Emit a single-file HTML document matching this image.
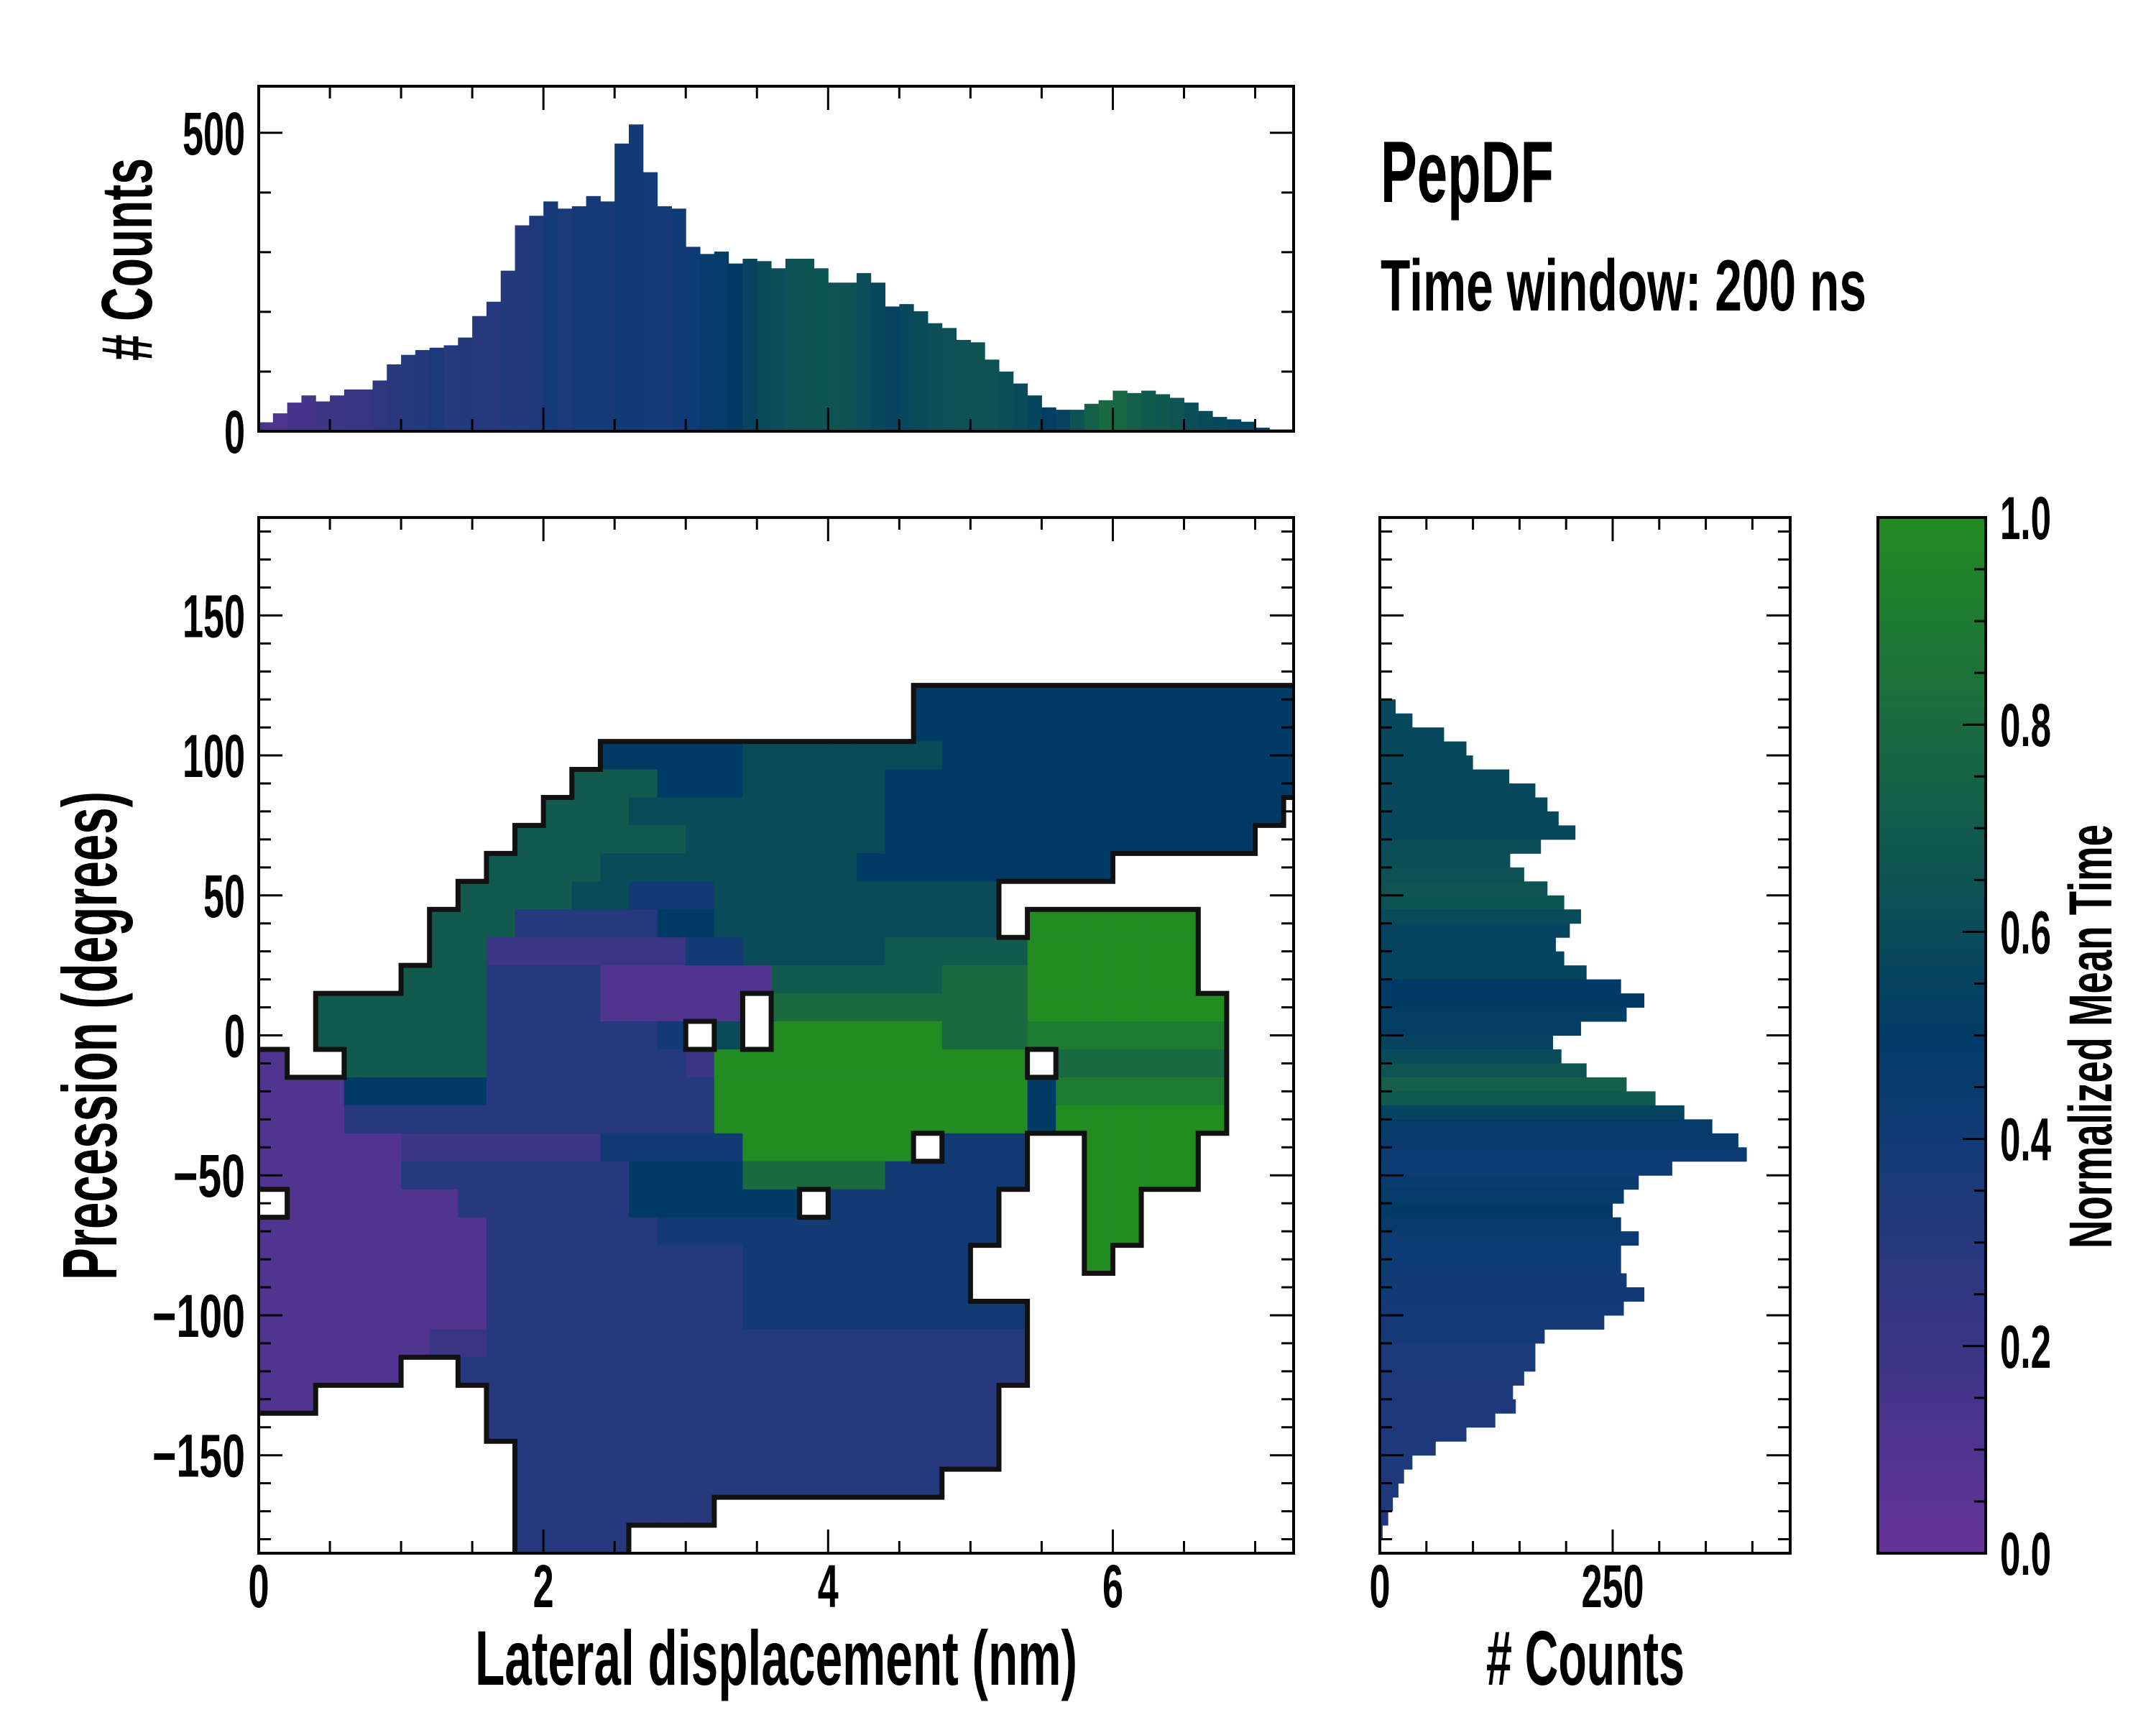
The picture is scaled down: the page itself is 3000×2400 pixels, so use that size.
<!DOCTYPE html>
<html><head><meta charset="utf-8"><style>
html,body{margin:0;padding:0;background:#fff;}
svg{display:block;}
text{font-family:"Liberation Sans Narrow","Liberation Sans",sans-serif;font-weight:bold;fill:#000;}
</style></head><body>
<svg id="fig" width="3000" height="2400" viewBox="0 0 3000 2400" xmlns="http://www.w3.org/2000/svg">
<defs>
<clipPath id="mainClip"><rect x="360" y="720" width="1440" height="1441"/></clipPath>
<linearGradient id="cbGrad" x1="0" y1="1" x2="0" y2="0">
<stop offset="0" stop-color="#663399"/><stop offset="0.2" stop-color="#3a3585"/><stop offset="0.4" stop-color="#123b76"/><stop offset="0.5" stop-color="#003b66"/><stop offset="0.6" stop-color="#0a4b5a"/><stop offset="0.8" stop-color="#1a6a40"/><stop offset="1" stop-color="#228b22"/>
</linearGradient>
</defs>
<g id="heat" clip-path="url(#mainClip)"></g>
<g id="edges" clip-path="url(#mainClip)"></g>
<g id="topbars"></g>
<g id="rightbars"></g>
<rect x="2613" y="720" width="150" height="1441" fill="url(#cbGrad)"/>
<g id="axes"></g>
<g id="labels"></g>
<text x="1921" y="281" font-size="122" textLength="241" lengthAdjust="spacingAndGlyphs">PepDF</text>
<text x="1921" y="432" font-size="101" textLength="676" lengthAdjust="spacingAndGlyphs">Time window: 200 ns</text>
<text x="661" y="2344" font-size="108" textLength="838" lengthAdjust="spacingAndGlyphs">Lateral displacement (nm)</text>
<text x="2068" y="2344" font-size="108" textLength="276" lengthAdjust="spacingAndGlyphs"># Counts</text>
<text transform="translate(162,1781) rotate(-90)" font-size="108" textLength="680" lengthAdjust="spacingAndGlyphs">Precession (degrees)</text>
<text transform="translate(211,502) rotate(-90)" font-size="100" textLength="282" lengthAdjust="spacingAndGlyphs"># Counts</text>
<text transform="translate(2938,1737) rotate(-90)" font-size="84" textLength="590" lengthAdjust="spacingAndGlyphs">Normalized Mean Time</text>
</svg>
<script>
// ---- data ----
const topBinWidth = 0.1;
const topCounts = [15,30,48,60,50,60,70,70,85,112,128,136,140,144,157,193,217,269,345,361,385,373,377,394,385,482,514,434,377,373,309,297,301,281,289,285,273,289,289,273,249,249,265,249,209,213,201,181,173,153,149,120,100,80,60,40,36,36,46,52,68,64,68,62,56,48,34,24,20,16,6,3,3];
const topMeanTime = [0.12,0.12,0.15,0.15,0.18,0.2,0.22,0.22,0.25,0.28,0.3,0.32,0.35,0.3,0.32,0.3,0.3,0.32,0.32,0.35,0.38,0.36,0.38,0.38,0.38,0.4,0.4,0.38,0.38,0.4,0.42,0.45,0.48,0.5,0.55,0.6,0.62,0.64,0.65,0.65,0.66,0.65,0.62,0.58,0.55,0.58,0.6,0.62,0.63,0.64,0.65,0.64,0.62,0.6,0.56,0.52,0.55,0.65,0.72,0.8,0.78,0.72,0.7,0.68,0.66,0.62,0.6,0.58,0.56,0.56,0.55,0.55,0.55];
const rightTopEdge = 120;
const rightBinWidth = 5;
const rightCounts = [17,35,69,93,100,139,167,180,192,210,173,140,155,180,198,216,204,189,198,222,259,284,265,216,186,195,222,265,296,327,357,385,394,314,278,262,250,259,278,259,259,265,284,262,241,177,167,167,155,143,146,124,93,60,35,26,20,14,9,3];
const rightMeanTime = [0.58,0.58,0.58,0.58,0.58,0.58,0.58,0.58,0.58,0.58,0.62,0.62,0.64,0.66,0.65,0.6,0.56,0.55,0.56,0.56,0.5,0.5,0.52,0.52,0.55,0.6,0.66,0.72,0.7,0.55,0.48,0.45,0.43,0.42,0.45,0.48,0.5,0.46,0.44,0.42,0.42,0.4,0.4,0.38,0.38,0.38,0.36,0.36,0.35,0.35,0.34,0.34,0.34,0.34,0.34,0.34,0.34,0.34,0.34,0.34];
// heatmap: rows centred at 180..-180 deg (10 deg tall); columns 0.2 nm wide.
// Each row is run-length encoded "count:char"; '.'=empty, digit d = d/10, g = 1.0
const heatColWidth = 0.2;
const heatRowCenters = [180,170,160,150,140,130,120,110,100,90,80,70,60,50,40,30,20,10,0,-10,-20,-30,-40,-50,-60,-70,-80,-90,-100,-110,-120,-130,-140,-150,-160,-170,-180];
const heatRowsRLE = [
"37:.","37:.","37:.","37:.","37:.","37:.",
"23:.,14:5",
"23:.,14:5",
"12:.,5:5,7:6,13:5",
"11:.,3:7,3:5,5:6,15:5",
"10:.,3:7,9:6,14:5",
"9:.,6:7,7:6,13:5",
"8:.,4:7,9:6,9:5",
"7:.,4:7,2:6,3:4,10:6",
"6:.,3:7,5:3,2:5,10:6,1:.,6:g",
"6:.,2:7,7:2,2:4,5:6,5:7,6:g",
"5:.,3:7,4:3,6:1,6:7,3:8,6:g",
"2:.,6:7,4:3,5:1,1:.,9:8,7:g",
"2:.,6:7,6:3,1:4,1:.,1:6,1:.,6:g,3:8,7:9",
"1:1,2:.,5:7,7:3,1:2,11:g,1:.,6:8",
"3:1,5:5,8:3,11:g,1:5,6:9",
"3:1,13:3,11:g,1:5,6:g",
"5:1,7:2,5:4,6:g,1:.,3:4,2:.,4:g",
"5:1,8:3,4:5,5:8,5:4,2:.,4:g",
"1:.,6:1,6:3,6:5,1:.,6:4,3:.,2:g",
"8:1,6:3,12:4,3:.,2:g",
"8:1,9:3,8:4,4:.,1:g",
"8:1,9:3,8:4",
"8:1,9:3,10:4",
"6:1,2:2,19:3",
"5:1,2:.,20:3",
"2:1,6:.,18:3",
"8:.,18:3",
"9:.,17:3",
"9:.,15:3",
"9:.,7:3",
"9:.,4:3"
];
const heatRows = heatRowsRLE.map(s => (s.split(',').map(p => { const [n,c] = p.split(':'); return c.repeat(+n); }).join('') + '.'.repeat(37)).slice(0,37));

// ---- geometry ----
const NS = "http://www.w3.org/2000/svg";
const X0=360, X1=1800, Y0=720, Y1=2161, XMAX=7.27, YMIN=-185, YMAX=185;
const sx = v => X0 + v/XMAX*(X1-X0);
const sy = d => Y0 + (YMAX-d)/(YMAX-YMIN)*(Y1-Y0);
const TY0=120, TY1=600, TYMAX=578;
const ty = c => TY1 - c/TYMAX*(TY1-TY0);
const RX0=1920, RX1=2491, RXMAX=440.6;
const rx = c => RX0 + c/RXMAX*(RX1-RX0);
const CB0=2613, CB1=2763;
const cy = v => Y1 - v*(Y1-Y0);

const stops=[[0,[0x66,0x33,0x99]],[0.2,[0x3a,0x35,0x85]],[0.4,[0x12,0x3b,0x76]],[0.5,[0x00,0x3b,0x66]],[0.6,[0x0a,0x4b,0x5a]],[0.8,[0x1a,0x6a,0x40]],[1,[0x22,0x8b,0x22]]];
function cmap(v){v=Math.max(0,Math.min(1,v));for(let i=1;i<stops.length;i++){if(v<=stops[i][0]){const a=stops[i-1],b=stops[i];const t=(v-a[0])/(b[0]-a[0]);const c=a[1].map((x,k)=>Math.round(x+(b[1][k]-x)*t));return `rgb(${c[0]},${c[1]},${c[2]})`;}}return "rgb(34,139,34)";}
function mk(tag, attrs, parent){const e=document.createElementNS(NS,tag);for(const k in attrs)e.setAttribute(k,attrs[k]);parent.appendChild(e);return e;}
function cellVal(ch){if(ch==='.')return null;if(ch==='g')return 1.0;return parseInt(ch,10)/10;}

// heatmap cells
const heat=document.getElementById('heat');
heatRows.forEach((row,k)=>{
  const c=heatRowCenters[k];
  for(let j=0;j<row.length;j++){
    const v=cellVal(row[j]); if(v===null) continue;
    const x0=sx(j*heatColWidth), x1=sx((j+1)*heatColWidth);
    const yA=sy(c+5), yB=sy(c-5);
    const r=mk('rect',{x:x0,y:yA,width:x1-x0+0.6,height:yB-yA+0.6,fill:cmap(v)},heat);
    
    
  }
});
// outer contour along data edge
const edges=document.getElementById('edges');
let d='';
const filled=(k,j)=>k>=0&&k<heatRows.length&&j>=0&&j<37&&heatRows[k][j]!=='.';
const inGrid=(k,j)=>k>=0&&k<heatRows.length&&j>=0&&j<37;
heatRows.forEach((row,k)=>{
  const c=heatRowCenters[k];
  for(let j=0;j<37;j++){
    if(!filled(k,j))continue;
    const x0=sx(j*heatColWidth),x1=sx((j+1)*heatColWidth),yA=sy(c+5),yB=sy(c-5);
    if(inGrid(k-1,j)&&!filled(k-1,j)) d+=`M${x0},${yA}H${x1}`;
    if(inGrid(k+1,j)&&!filled(k+1,j)) d+=`M${x0},${yB}H${x1}`;
    if(inGrid(k,j-1)&&!filled(k,j-1)) d+=`M${x0},${yA}V${yB}`;
    if(inGrid(k,j+1)&&!filled(k,j+1)) d+=`M${x1},${yA}V${yB}`;
  }
});
const ep=mk('path',{d:d,stroke:'#111',"stroke-width":7,fill:'none',"stroke-linecap":'square'},edges);



// top histogram
const tb=document.getElementById('topbars');
topCounts.forEach((c,i)=>{
  const x0=sx(i*topBinWidth), x1=Math.min(sx((i+1)*topBinWidth),X1);
  const r=mk('rect',{x:x0,y:ty(c),width:x1-x0+0.5,height:TY1-ty(c),fill:cmap(topMeanTime[i])},tb);
  
  
});
// right histogram
const rb=document.getElementById('rightbars');
rightCounts.forEach((c,i)=>{
  const yA=sy(rightTopEdge-i*rightBinWidth), yB=sy(rightTopEdge-(i+1)*rightBinWidth);
  const r=mk('rect',{x:RX0,y:yA,width:rx(c)-RX0,height:yB-yA+0.5,fill:cmap(rightMeanTime[i])},rb);
  
  
});

// axes frames and ticks
const ax=document.getElementById('axes');
function frame(x0,y0,x1,y1,name){const r=mk('rect',{x:x0,y:y0,width:x1-x0,height:y1-y0,fill:'none',stroke:'#000',"stroke-width":4},ax);}
let td='';
function xticks(x0,x1,y0,y1,f,vals,len){vals.forEach(v=>{const x=f(v);if(x<x0-1||x>x1+1)return;td+=`M${x},${y1}V${y1-len}M${x},${y0}V${y0+len}`;});}
function yticks(x0,x1,y0,y1,f,vals,len){vals.forEach(v=>{const y=f(v);if(y<y0-1||y>y1+1)return;td+=`M${x0},${y}H${x0+len}M${x1},${y}H${x1-len}`;});}
const range=(a,b,s)=>{const o=[];for(let v=a;v<=b+1e-9;v+=s)o.push(+v.toFixed(4));return o;};
frame(X0,Y0,X1,Y1,'main-axes-frame');
xticks(X0,X1,Y0,Y1,sx,range(0,7,0.5),17);xticks(X0,X1,Y0,Y1,sx,range(0,6,2),33);
yticks(X0,X1,Y0,Y1,sy,range(-180,180,10),17);yticks(X0,X1,Y0,Y1,sy,range(-150,150,50),33);
frame(X0,TY0,X1,TY1,'top-axes-frame');
xticks(X0,X1,TY0,TY1,sx,range(0,7,0.5),17);xticks(X0,X1,TY0,TY1,sx,range(0,6,2),33);
yticks(X0,X1,TY0,TY1,ty,range(0,500,100),17);yticks(X0,X1,TY0,TY1,ty,[0,500],33);
frame(RX0,Y0,RX1,Y1,'right-axes-frame');
xticks(RX0,RX1,Y0,Y1,rx,range(0,400,50),17);xticks(RX0,RX1,Y0,Y1,rx,[0,250],33);
yticks(RX0,RX1,Y0,Y1,sy,range(-180,180,10),17);yticks(RX0,RX1,Y0,Y1,sy,range(-150,150,50),33);
frame(CB0,Y0,CB1,Y1,'colorbar-frame');
range(0,1,0.05).forEach(v=>{td+=`M${CB1},${cy(v)}H${CB1-16}`;});
range(0,1,0.2).forEach(v=>{td+=`M${CB1},${cy(v)}H${CB1-32}`;});
const tp=mk('path',{d:td,stroke:'#000',"stroke-width":3,fill:'none'},ax);



// tick labels
const lab=document.getElementById('labels');
function txt(s,x,y,anchor,name){
  const w=s.split('').reduce((a,ch)=>a+(ch==='.'?13:(ch==='\u2212'?42:29)),0);
  const t=mk('text',{x:x,y:y,"font-size":84,"text-anchor":anchor,textLength:w,lengthAdjust:'spacingAndGlyphs'},lab);
  t.textContent=s;
  
  
}
const xTickLabels=['0','2','4','6'];
[0,2,4,6].forEach((v,i)=>txt(xTickLabels[i],sx(v),2236,'middle','x-tick-label'));
const yTickVals=[150,100,50,0,-50,-100,-150];
yTickVals.forEach(v=>txt(v<0?'\u2212'+Math.abs(v):String(v),341,sy(v)+30,'end','y-tick-label'));
[0,500].forEach(v=>txt(String(v),341,ty(v)+30,'end','top-y-tick-label'));
[0,250].forEach(v=>txt(String(v),rx(v),2236,'middle','right-x-tick-label'));
const cbTicks=[0,0.2,0.4,0.6,0.8,1.0];
cbTicks.forEach(v=>txt(v.toFixed(1),2783,cy(v)+30,'start','colorbar-tick-label'));
</script>
</body></html>
